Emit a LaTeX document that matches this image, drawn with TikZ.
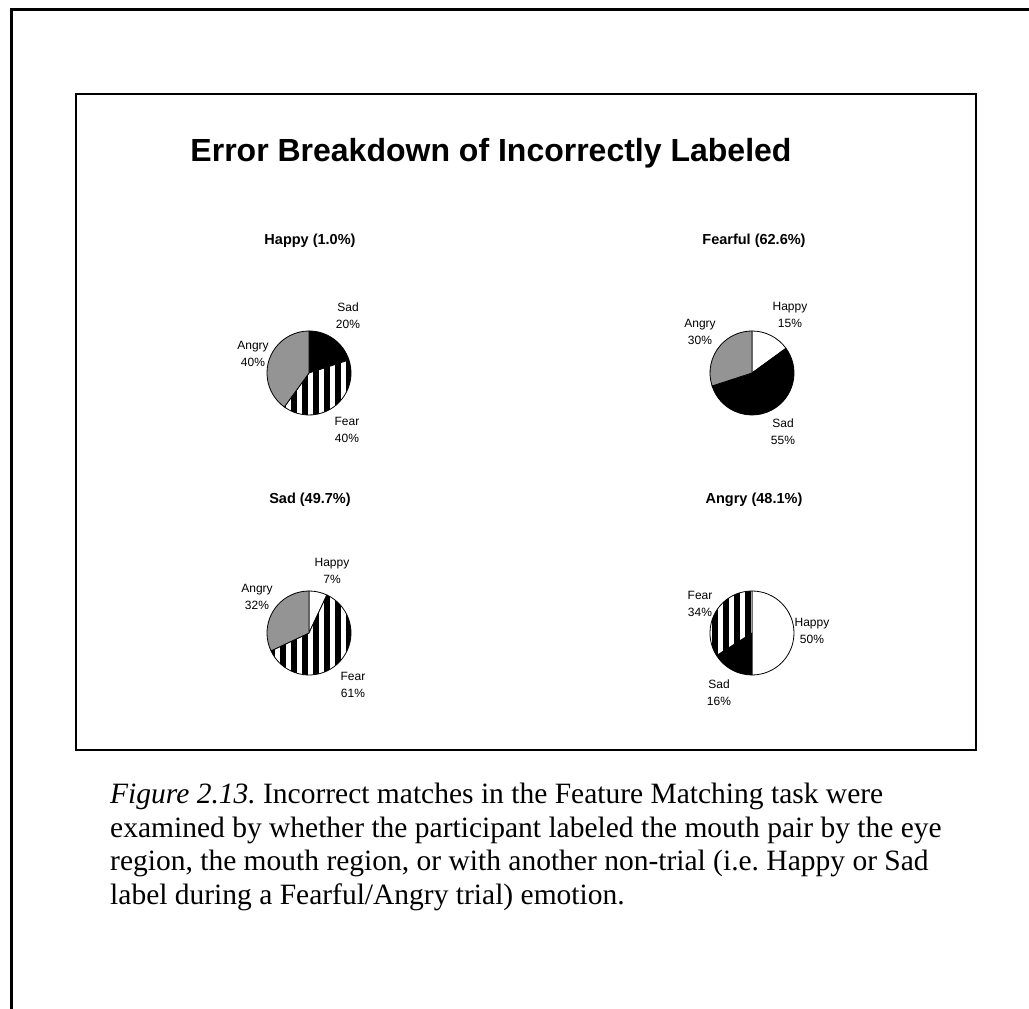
\documentclass[tikz,border=0pt]{standalone}
\usepackage{fontspec}
\setmainfont{Liberation Serif}
\setsansfont{Liberation Sans}
\frenchspacing

\tikzset{
	wedge/.style={draw=black, line width=0.8pt, line join=round},
	pietitle/.style={font=\sffamily\bfseries\fontsize{14.5}{17}\selectfont, inner sep=0pt},
	slicelbl/.style={font=\sffamily\fontsize{12}{17}\selectfont, align=center, inner sep=0pt},
	capline/.style={font=\fontsize{29.5}{34}\selectfont, anchor=base west, inner sep=0pt},
}

% solid wedge: centre, from angle, to angle, fill
\newcommand{\solidwedge}[4]{%
	\filldraw[wedge, fill=#4, shift={(#1)}] (0,0) -- (#2:42pt) arc[start angle=#2, end angle=#3, radius=42pt] -- cycle;}

% striped wedge: centre, from angle, to angle
\newcommand{\stripewedge}[3]{%
	\begin{scope}[shift={(#1)}]
		\clip (0,0) -- (#2:42pt) arc[start angle=#2, end angle=#3, radius=42pt] -- cycle;
		\fill[white] (-45,-45) rectangle (45,45);
		\foreach \k in {-4,...,4} \fill (\k*11-7,-45) rectangle ++(6,90);
	\end{scope}
	\draw[wedge, shift={(#1)}] (0,0) -- (#2:42pt) arc[start angle=#2, end angle=#3, radius=42pt] -- cycle;}

\begin{document}
\begin{tikzpicture}[x=1pt, y=1pt]
	\useasboundingbox (0,0) rectangle (1029,1009);
	
	% page frame and chart box
	\draw[line width=3pt] (11,0) -- (11,999) -- (1029,999);
	\draw[line width=2.5pt] (76,259) rectangle (976,915);
	
	\node[font=\sffamily\bfseries\fontsize{32}{38}\selectfont, inner sep=0pt] (title) at (491,856) {Error Breakdown of Incorrectly Labeled};
	
	\coordinate (p1) at (309,636);
	\coordinate (p2) at (752,636);
	\coordinate (p3) at (309,376);
	\coordinate (p4) at (752,376);
	
	% Happy
	\node[pietitle] (t1) at (310,768) {Happy (1.0\%)};
	\solidwedge{p1}{90}{18}{black}
	\stripewedge{p1}{18}{-126}
	\solidwedge{p1}{-126}{-270}{black!42}
	\node[slicelbl] (l1s) at (348,693) {Sad\\20\%};
	\node[slicelbl] (l1a) at (253,655) {Angry\\40\%};
	\node[slicelbl] (l1f) at (347,579) {Fear\\40\%};
	
	% Fearful
	\node[pietitle] (t2) at (754,768) {Fearful (62.6\%)};
	\solidwedge{p2}{90}{36}{white}
	\solidwedge{p2}{36}{-162}{black}
	\solidwedge{p2}{-162}{-270}{black!42}
	\node[slicelbl] (l2h) at (790,694) {Happy\\15\%};
	\node[slicelbl] (l2a) at (700,677) {Angry\\30\%};
	\node[slicelbl] (l2s) at (783,577) {Sad\\55\%};
	
	% Sad
	\node[pietitle] (t3) at (310,509) {Sad (49.7\%)};
	\solidwedge{p3}{90}{64.8}{white}
	\stripewedge{p3}{64.8}{-154.8}
	\solidwedge{p3}{-154.8}{-270}{black!42}
	\node[slicelbl] (l3h) at (332,438) {Happy\\7\%};
	\node[slicelbl] (l3a) at (257,412) {Angry\\32\%};
	\node[slicelbl] (l3f) at (353,324) {Fear\\61\%};
	
	% Angry
	\node[pietitle] (t4) at (754,509) {Angry (48.1\%)};
	\solidwedge{p4}{90}{-90}{white}
	\solidwedge{p4}{-90}{-147.6}{black}
	\stripewedge{p4}{-147.6}{-270}
	\node[slicelbl] (l4f) at (700,405) {Fear\\34\%};
	\node[slicelbl] (l4h) at (812,378) {Happy\\50\%};
	\node[slicelbl] (l4s) at (719,316) {Sad\\16\%};
	
	% caption
	\node[capline] (cap1) at (110,205) {\textit{Figure 2.13.} Incorrect matches in the Feature Matching task were};
	\node[capline] (cap2) at (110,171) {examined by whether the participant labeled the mouth pair by the eye};
	\node[capline] (cap3) at (110,138) {region, the mouth region, or with another non-trial (i.e. Happy or Sad};
	\node[capline] (cap4) at (110,104) {label during a Fearful/Angry trial) emotion.};
\end{tikzpicture}
\end{document}
